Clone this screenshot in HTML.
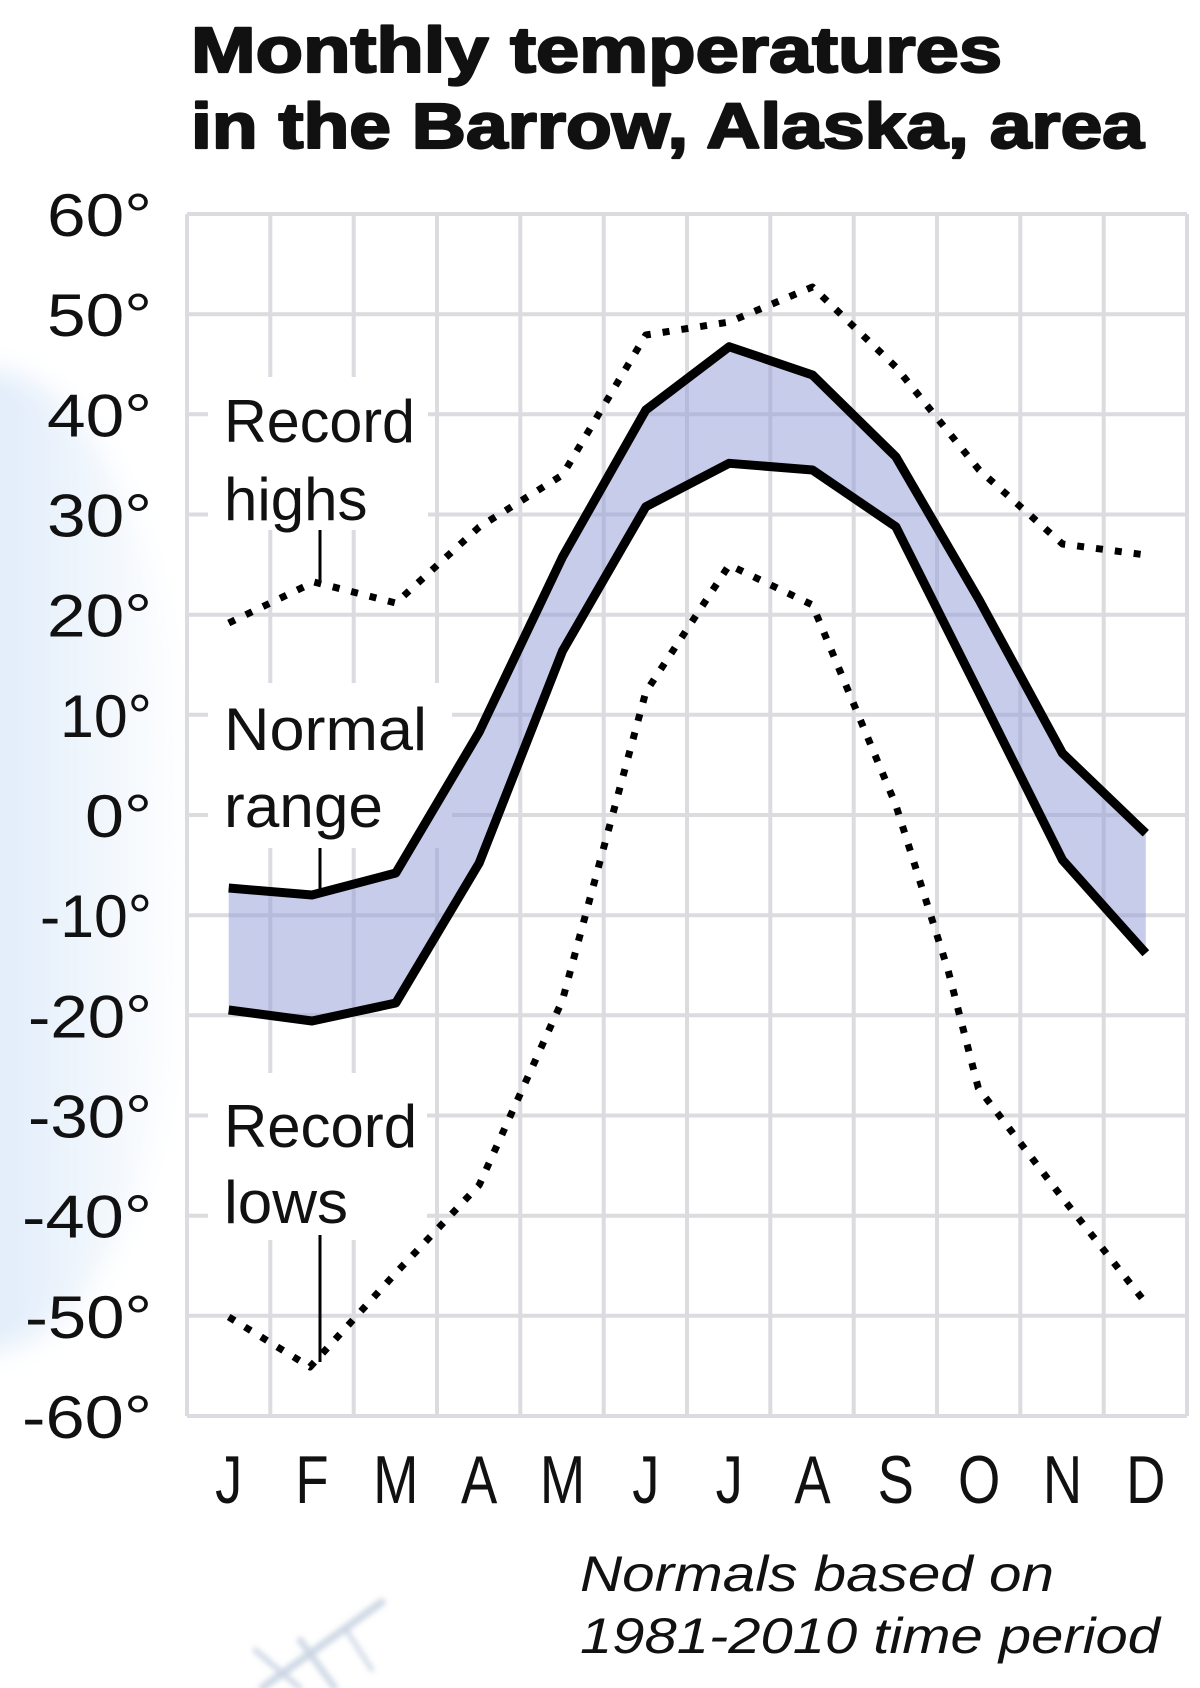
<!DOCTYPE html>
<html>
<head>
<meta charset="utf-8">
<style>
html,body{margin:0;padding:0;background:#fff;}
body{width:1200px;height:1688px;overflow:hidden;}
svg{display:block;}
text{font-family:"Liberation Sans", Arial, sans-serif;}
</style>
</head>
<body>
<svg width="1200" height="1688" viewBox="0 0 1200 1688" xmlns="http://www.w3.org/2000/svg">
  <defs>
    <linearGradient id="blobg" x1="0" y1="0" x2="1" y2="0">
      <stop offset="0" stop-color="#c6dcf2"/>
      <stop offset="0.55" stop-color="#e3eefa"/>
      <stop offset="1" stop-color="#ffffff"/>
    </linearGradient>
    <filter id="blur" x="-50%" y="-50%" width="200%" height="200%">
      <feGaussianBlur stdDeviation="14"/>
    </filter>
    <filter id="blur2" x="-50%" y="-50%" width="200%" height="200%">
      <feGaussianBlur stdDeviation="3"/>
    </filter>
  </defs>

  <rect x="0" y="0" width="1200" height="1688" fill="#ffffff"/>

  <!-- background blue blob on left -->
  <ellipse cx="-10" cy="860" rx="200" ry="490" fill="url(#blobg)" filter="url(#blur)"/>

  <!-- faint sketch at bottom -->
  <g filter="url(#blur2)" opacity="0.55" stroke="#9fb2cc" stroke-linecap="round" fill="none">
    <line x1="382" y1="1602" x2="262" y2="1688" stroke-width="7"/>
    <line x1="300" y1="1640" x2="335" y2="1688" stroke-width="6"/>
    <line x1="255" y1="1650" x2="300" y2="1688" stroke-width="5"/>
    <line x1="345" y1="1628" x2="372" y2="1670" stroke-width="4"/>
  </g>

  <!-- Title -->
  <g fill="#111" stroke="#111" stroke-width="2.2" stroke-linejoin="round">
    <text x="191" y="72" font-size="64" font-weight="bold" textLength="811" lengthAdjust="spacingAndGlyphs">Monthly temperatures</text>
    <text x="191" y="148" font-size="64" font-weight="bold" textLength="953" lengthAdjust="spacingAndGlyphs">in the Barrow, Alaska, area</text>
  </g>

  <!-- Grid -->
  <g stroke="#dcdce0" stroke-width="4" fill="none">
    <line x1="187" y1="214" x2="1187" y2="214"/>
    <line x1="187" y1="314.2" x2="1187" y2="314.2"/>
    <line x1="187" y1="414.3" x2="1187" y2="414.3"/>
    <line x1="187" y1="514.5" x2="1187" y2="514.5"/>
    <line x1="187" y1="614.7" x2="1187" y2="614.7"/>
    <line x1="187" y1="714.8" x2="1187" y2="714.8"/>
    <line x1="187" y1="815" x2="1187" y2="815"/>
    <line x1="187" y1="915.2" x2="1187" y2="915.2"/>
    <line x1="187" y1="1015.3" x2="1187" y2="1015.3"/>
    <line x1="187" y1="1115.5" x2="1187" y2="1115.5"/>
    <line x1="187" y1="1215.7" x2="1187" y2="1215.7"/>
    <line x1="187" y1="1315.8" x2="1187" y2="1315.8"/>
    <line x1="187" y1="1416" x2="1187" y2="1416"/>

    <line x1="187" y1="214" x2="187" y2="1416"/>
    <line x1="270.3" y1="214" x2="270.3" y2="1416"/>
    <line x1="353.7" y1="214" x2="353.7" y2="1416"/>
    <line x1="437" y1="214" x2="437" y2="1416"/>
    <line x1="520.3" y1="214" x2="520.3" y2="1416"/>
    <line x1="603.7" y1="214" x2="603.7" y2="1416"/>
    <line x1="687" y1="214" x2="687" y2="1416"/>
    <line x1="770.3" y1="214" x2="770.3" y2="1416"/>
    <line x1="853.7" y1="214" x2="853.7" y2="1416"/>
    <line x1="937" y1="214" x2="937" y2="1416"/>
    <line x1="1020.3" y1="214" x2="1020.3" y2="1416"/>
    <line x1="1103.7" y1="214" x2="1103.7" y2="1416"/>
    <line x1="1187" y1="214" x2="1187" y2="1416"/>
  </g>

  <!-- white label boxes covering grid -->
  <g fill="#ffffff">
    <rect x="208" y="377" width="220" height="153"/>
    <rect x="208" y="683" width="244" height="165"/>
    <rect x="208" y="1073" width="219" height="167"/>
  </g>

  <!-- Normal range fill -->
  <polygon fill="#8f9ad8" fill-opacity="0.5"
    points="228.7,888 312,895 395.8,873 479.2,732 562.5,557 645.8,410 729.2,346.7 812.5,375 895.8,456.7 979.2,600 1062.5,753.3 1145.8,833.3 1145.8,953.3 1062.5,860 979.2,693 895.8,526.7 812.5,470 729.2,463.3 645.8,506.7 562.5,651 479.2,863 395.8,1003 312,1021 228.7,1010"/>

  <!-- Normal high / low lines -->
  <g fill="none" stroke="#000" stroke-width="9" stroke-linejoin="round" stroke-linecap="butt">
    <polyline points="228.7,888 312,895 395.8,873 479.2,732 562.5,557 645.8,410 729.2,346.7 812.5,375 895.8,456.7 979.2,600 1062.5,753.3 1145.8,833.3"/>
    <polyline points="228.7,1010 312,1021 395.8,1003 479.2,863 562.5,651 645.8,506.7 729.2,463.3 812.5,470 895.8,526.7 979.2,693 1062.5,860 1145.8,953.3"/>
  </g>

  <!-- Record high / low dotted -->
  <g fill="none" stroke="#000" stroke-width="7" stroke-dasharray="7 12" stroke-linejoin="round">
    <polyline points="228.7,623 314,582 395.8,603 479.2,527 562.5,475 645.8,335 729.2,322 812.5,287 895.8,367 979.2,470 1062.5,544 1145.8,555"/>
    <polyline points="228.7,1317 310,1367 395.8,1273 479.2,1185 562.5,1000 645.8,692 729.2,565 812.5,605 895.8,805 948,970 978.3,1088 1062.5,1198 1145.8,1303"/>
  </g>

  <!-- leader lines -->
  <g stroke="#000" stroke-width="3">
    <line x1="320" y1="530" x2="320" y2="580"/>
    <line x1="320" y1="848" x2="320" y2="892"/>
    <line x1="320" y1="1235" x2="320" y2="1362"/>
  </g>

  <!-- series labels -->
  <g fill="#111" font-size="60">
    <text x="224" y="442" textLength="191" lengthAdjust="spacingAndGlyphs">Record</text>
    <text x="224" y="520">highs</text>
    <text x="224" y="750" textLength="203" lengthAdjust="spacingAndGlyphs">Normal</text>
    <text x="224" y="827" textLength="159" lengthAdjust="spacingAndGlyphs">range</text>
    <text x="224" y="1147" textLength="193" lengthAdjust="spacingAndGlyphs">Record</text>
    <text x="224" y="1223" textLength="124" lengthAdjust="spacingAndGlyphs">lows</text>
  </g>

  <!-- Y axis labels -->
  <g fill="#111" font-size="60" text-anchor="end">
    <text x="152" y="236" textLength="105" lengthAdjust="spacingAndGlyphs">60°</text>
    <text x="152" y="336.2" textLength="105" lengthAdjust="spacingAndGlyphs">50°</text>
    <text x="152" y="436.3" textLength="105" lengthAdjust="spacingAndGlyphs">40°</text>
    <text x="152" y="536.5" textLength="105" lengthAdjust="spacingAndGlyphs">30°</text>
    <text x="152" y="636.7" textLength="105" lengthAdjust="spacingAndGlyphs">20°</text>
    <text x="152" y="736.8" textLength="92" lengthAdjust="spacingAndGlyphs">10°</text>
    <text x="152" y="837" textLength="67" lengthAdjust="spacingAndGlyphs">0°</text>
    <text x="152" y="937.2" textLength="112" lengthAdjust="spacingAndGlyphs">-10°</text>
    <text x="152" y="1037.3" textLength="124" lengthAdjust="spacingAndGlyphs">-20°</text>
    <text x="152" y="1137.5" textLength="124" lengthAdjust="spacingAndGlyphs">-30°</text>
    <text x="152" y="1237.7" textLength="130" lengthAdjust="spacingAndGlyphs">-40°</text>
    <text x="152" y="1337.8" textLength="127" lengthAdjust="spacingAndGlyphs">-50°</text>
    <text x="152" y="1438" textLength="130" lengthAdjust="spacingAndGlyphs">-60°</text>
  </g>

  <!-- Month labels -->
  <g fill="#111" font-size="68" text-anchor="middle">
    <text transform="translate(228.7,1503) scale(0.8,1)">J</text>
    <text transform="translate(312,1503) scale(0.8,1)">F</text>
    <text transform="translate(395.8,1503) scale(0.8,1)">M</text>
    <text transform="translate(479.2,1503) scale(0.8,1)">A</text>
    <text transform="translate(562.5,1503) scale(0.8,1)">M</text>
    <text transform="translate(645.8,1503) scale(0.8,1)">J</text>
    <text transform="translate(729.2,1503) scale(0.8,1)">J</text>
    <text transform="translate(812.5,1503) scale(0.8,1)">A</text>
    <text transform="translate(895.8,1503) scale(0.8,1)">S</text>
    <text transform="translate(979.2,1503) scale(0.8,1)">O</text>
    <text transform="translate(1062.5,1503) scale(0.8,1)">N</text>
    <text transform="translate(1145.8,1503) scale(0.8,1)">D</text>
  </g>

  <!-- footnote -->
  <g fill="#111" font-size="50" font-style="italic">
    <text x="580" y="1591" textLength="474" lengthAdjust="spacingAndGlyphs">Normals based on</text>
    <text x="580" y="1653" textLength="580" lengthAdjust="spacingAndGlyphs">1981-2010 time period</text>
  </g>
</svg>
</body>
</html>
